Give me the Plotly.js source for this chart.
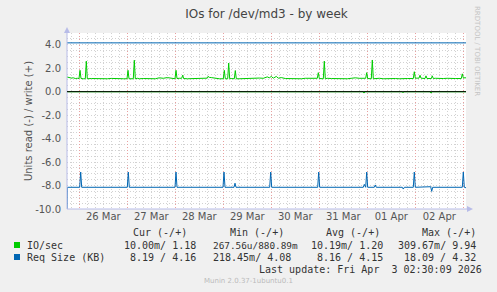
<!DOCTYPE html>
<html><head><meta charset="utf-8">
<script src="https://cdn.plot.ly/plotly-3.0.1.min.js"></script>
<style>html,body{margin:0;padding:0;background:#f0f0f0;}#chart{width:497px;height:292px;}</style>
</head><body><div id="chart"></div>
<script>
// ---- data (hours relative to 2026-03-26 00:00) ----
const ioWriteH = [-6.15,-5,-4,-3,-2,-1,-0.15,0.35,0.85,2,3,3.5,4,6,8,10,12,14,16,18,20,22,23.85,24.35,24.85,27,27.5,28,29,30,32,34,36,38,40,42,44,46,47.85,48.35,48.85,50,51.2,51.7,52.2,54,56,58,60,62,63.85,64.35,65,66,68,70,72,72.5,73,74.2,74.7,75.2,76,77.5,78,78.5,80,82,84,86,88,90,92,94,95,96,97,98.5,99.5,101,103,105,107,109,111,113,115,117,119,119.5,120,122,122.5,123,124,126,128,130,132,134,136,138,140,143.2,143.7,144.2,146,146.5,147,148,150,152,154,156,158,160,162,164,167,167.5,168,169.85,170.35,170.85,172.85,173.35,173.85,176,176.5,177,178,180,182,184,186,188,191,191.5,192,193.35];
const ioWriteV = [1.25,1.2,1.16,1.18,1.12,1.14,1.12,1.82,1.12,1.1,1.1,2.6,1.1,1.12,1.1,1.13,1.11,1.1,1.13,1.14,1.11,1.1,1.1,1.82,1.1,1.1,2.68,1.1,1.14,1.1,1.12,1.1,1.14,1.1,1.18,1.14,1.2,1.12,1.1,1.82,1.12,1.14,1.14,1.4,1.12,1.1,1.12,1.1,1.14,1.12,1.15,1.3,1.22,1.2,1.12,1.1,1.1,1.82,1.1,1.1,2.44,1.1,1.12,1.1,1.8,1.1,1.1,1.12,1.1,1.14,1.12,1.16,1.14,1.26,1.18,1.3,1.15,1.3,1.15,1.2,1.12,1.1,1.14,1.12,1.1,1.14,1.12,1.14,1.14,1.62,1.12,1.1,2.6,1.1,1.14,1.12,1.1,1.14,1.12,1.1,1.14,1.18,1.14,1.14,1.62,1.12,1.1,2.7,1.1,1.12,1.14,1.1,1.12,1.14,1.12,1.1,1.14,1.12,1.12,1.7,1.15,1.15,1.4,1.15,1.12,1.35,1.12,1.12,1.35,1.12,1.14,1.1,1.12,1.14,1.1,1.12,1.12,1.52,1.18,1.18];
const ioReadH = [-6.15,141.85,142.35,142.85,161.35,161.85,162.35,175.35,175.85,176.35,193.35];
const ioReadV = [0.01,0.01,0.12,0.01,0.01,0.1,0.01,0.01,0.12,0.01,0.01];
const reqWriteH = [-6.15,40,100,160,193.35];
const reqWriteV = [4.16,4.16,4.16,4.16,4.16];
const reqReadH = [-6.15,-6.0,0.2,0.7,1.2,24.0,24.5,25.0,47.85,48.35,48.85,71.85,72.35,72.85,77.35,77.85,78.35,95.2,95.7,96.2,119.2,119.7,120.2,142.0,142.5,143.0,143.2,143.7,144.2,147.5,148.0,148.5,161.5,162.0,162.5,167.0,167.5,168.0,175.7,176.2,176.7,191.5,192.0,192.5,193.35];
const reqReadV = [10.5,8.15,8.15,6.85,8.15,8.15,6.85,8.15,8.15,6.85,8.15,8.15,6.85,8.15,8.15,7.8,8.15,8.15,6.85,8.15,8.15,6.85,8.15,8.15,7.9,8.15,8.15,6.85,8.15,8.15,7.95,8.15,8.15,8.3,8.15,8.15,6.85,8.15,8.1,8.5,8.15,8.15,6.85,8.15,8.19];

const yTickVals = [-10,-8,-6,-4,-2,0,2,4];
const seriesNames = ['IO/sec','Req Size (KB)'];
const colHeaders = ['Cur (-/+)','Min (-/+)','Avg (-/+)','Max (-/+)'];
const curVals = ['10.00m/ 1.18','8.19 / 4.16'];
const minVals = ['267.56u/880.89m','218.45m/ 4.08'];
const avgVals = ['10.19m/ 1.20','8.16 / 4.15'];
const maxVals = ['309.67m/ 9.94','18.09 / 4.32'];
const lastUpdate = 'Last update: Fri Apr\u00a0\u00a03 02:30:09 2026';

// ---- helpers ----
const T0 = Date.UTC(2026,2,26,0,0,0);
const toDate = h => new Date(T0 + h*3600000).toISOString().replace('T',' ').slice(0,19);
const L=67, R=31, T=33, B=83, W=497-L-R, H=292-T-B;
const px = x => (x-L)/W;
const py = y => (292-B-y)/H;

const green='#00cc00', blue='#0066b3';
const traces = [
  {x: ioReadH.map(toDate), y: ioReadV.map(v=>-v), mode:'lines', line:{color:green,width:1}},
  {x: reqReadH.map(toDate), y: reqReadV.map(v=>-v), mode:'lines', line:{color:blue,width:1}},
  {x: ioWriteH.map(toDate), y: ioWriteV, mode:'lines', line:{color:green,width:1}},
  {x: reqWriteH.map(toDate), y: reqWriteV, mode:'lines', line:{color:blue,width:1}}
];

const mono = {family:'DejaVu Sans Mono', size:10, color:'#333'};
const ann = [];
function txt(text, x, y, anchor, font){
  ann.push({text:text, xref:'paper', yref:'paper', x:px(x), y:py(y), xanchor:anchor, yanchor:'middle', showarrow:false, font:font||mono, borderpad:0});
}
const hdrRight = [188,285,381,477];
colHeaders.forEach((h,i)=>txt(h, hdrRight[i], 233, 'right'));
const rowY = [245, 257];
seriesNames.forEach((n,i)=>{
  txt(n, 26, rowY[i], 'left');
  txt(curVals[i], 197, rowY[i], 'right');
  txt(avgVals[i], 384, rowY[i], 'right');
  txt(maxVals[i], 477, rowY[i], 'right');
});
txt(minVals[0], 212, rowY[0], 'left', {family:'DejaVu Sans Mono', size:9.4, color:'#333'});
txt(minVals[1], 212, rowY[1], 'left');
txt(lastUpdate, 483, 269, 'right');
txt('Munin 2.0.37-1ubuntu0.1', 248.5, 281, 'center', {family:'DejaVu Sans', size:7, color:'#bbb'});
ann.push({text:'RRDTOOL / TOBI OETIKER', xref:'paper', yref:'paper', x:px(477), y:py(51), xanchor:'center', yanchor:'middle', textangle:90, showarrow:false, font:{family:'DejaVu Sans', size:7, color:'#c4c4c4'}});

const axisCol = '#b8bce8';
const shapes = [
  {type:'line', xref:'paper', yref:'paper', x0:px(67), x1:px(67), y0:py(209), y1:py(30), line:{color:axisCol,width:1}, layer:'above'},
  {type:'line', xref:'paper', yref:'paper', x0:px(67), x1:px(470), y0:py(209), y1:py(209), line:{color:axisCol,width:1}, layer:'above'},
  {type:'path', xref:'paper', yref:'paper', path:`M ${px(64)} ${py(33)} L ${px(70)} ${py(33)} L ${px(67)} ${py(27)} Z`, fillcolor:axisCol, line:{width:0}, layer:'above'},
  {type:'path', xref:'paper', yref:'paper', path:`M ${px(467)} ${py(206)} L ${px(467)} ${py(212)} L ${px(473)} ${py(209)} Z`, fillcolor:axisCol, line:{width:0}, layer:'above'},
  {type:'line', xref:'paper', yref:'y', x0:0, x1:1, y0:0, y1:0, line:{color:'#000',width:1}, layer:'above'},
  {type:'rect', xref:'paper', yref:'paper', x0:px(14), x1:px(20), y0:py(242), y1:py(248), fillcolor:green, line:{width:0}},
  {type:'rect', xref:'paper', yref:'paper', x0:px(14), x1:px(20), y0:py(254), y1:py(260), fillcolor:blue, line:{width:0}}
];

const gridDash = '1px,2px';
const layout = {
  width:497, height:292, margin:{l:L, r:R, t:T, b:B, pad:0},
  paper_bgcolor:'#f0f0f0', plot_bgcolor:'#ffffff', showlegend:false,
  font:{family:'DejaVu Sans', size:10, color:'#555'},
  title:{text:'IOs for /dev/md3 - by week', x:0.5, xref:'paper', xanchor:'center', y:1-14/292, yanchor:'middle', font:{family:'DejaVu Sans', size:12, color:'#444'}},
  xaxis:{type:'date', range:[toDate(-6.15), toDate(193.35)], tick0:'2026-03-26', dtick:86400000, tickformat:'%d %b',
    ticklabelmode:'period', showgrid:true, gridcolor:'#e8a0a0', griddash:gridDash, gridwidth:1, showline:false, zeroline:false, ticks:'',
    tickfont:{family:'DejaVu Sans', size:10, color:'#555'},
    minor:{dtick:4*3600000, tick0:'2026-03-26', showgrid:true, gridcolor:'#d2d2d2', griddash:gridDash, gridwidth:1}},
  yaxis:{range:[-10,5], tickmode:'array', tickvals:yTickVals, ticktext:yTickVals.map(v=>v.toFixed(1)),
    showgrid:true, gridcolor:'#d2d2d2', griddash:gridDash, gridwidth:1, zeroline:false, showline:false, ticks:'', ticklabelstandoff:5,
    tickfont:{family:'DejaVu Sans', size:10, color:'#555'},
    minor:{tickmode:'linear', tick0:0, dtick:0.5, showgrid:true, gridcolor:'#d2d2d2', griddash:gridDash, gridwidth:1},
    title:{text:'Units read (-) / write (+)', standoff:0, font:{family:'DejaVu Sans', size:10, color:'#555'}}},
  annotations:ann, shapes:shapes
};
Plotly.newPlot('chart', traces, layout, {staticPlot:true, displayModeBar:false});
</script></body></html>
